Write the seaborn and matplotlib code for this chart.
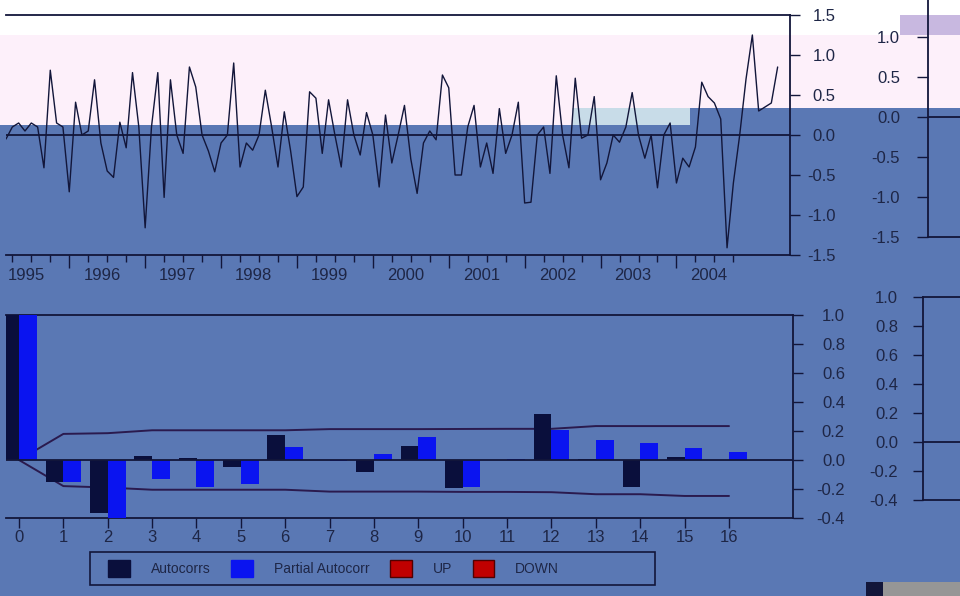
import numpy as np
import pandas as pd
import matplotlib
matplotlib.use("Agg")
import matplotlib.pyplot as plt
import seaborn as sns
from matplotlib.patches import Rectangle, Patch
from matplotlib.ticker import FixedLocator, FormatStrFormatter

# ---------------- data ----------------
series_start = "1995-03-01"
series_values = [
    -0.05, 0.10, 0.15, 0.05, 0.15, 0.10, -0.41, 0.81, 0.15, 0.10,
    -0.71, 0.41, 0.00, 0.05, 0.69, -0.10, -0.45, -0.53, 0.16, -0.16,
    0.78, 0.10, -1.16, 0.10, 0.78, -0.78, 0.69, 0.00, -0.23, 0.85,
    0.60, 0.00, -0.20, -0.46, -0.10, 0.00, 0.90, -0.40, -0.10, -0.19,
    0.00, 0.56, 0.10, -0.40, 0.29, -0.20, -0.77, -0.65, 0.54, 0.46,
    -0.23, 0.44, 0.00, -0.40, 0.44, 0.00, -0.25, 0.28, 0.00, -0.65,
    0.25, -0.35, 0.00, 0.37, -0.30, -0.73, -0.10, 0.05, -0.06, 0.75,
    0.59, -0.50, -0.50, 0.10, 0.37, -0.40, -0.10, -0.48, 0.33, -0.23,
    0.00, 0.41, -0.85, -0.84, 0.00, 0.10, -0.48, 0.74, 0.00, -0.41,
    0.71, -0.04, 0.00, 0.48, -0.56, -0.35, 0.00, -0.09, 0.10, 0.53,
    0.00, -0.29, 0.00, -0.66, 0.00, 0.15, -0.60, -0.29, -0.40, -0.15,
    0.66, 0.48, 0.40, 0.20, -1.41, -0.60, 0.00, 0.70, 1.25, 0.30,
    0.35, 0.40, 0.85,
]
year_labels = [1995, 1996, 1997, 1998, 1999, 2000, 2001, 2002, 2003, 2004]
year_ticks = [1996, 1997, 1998, 1999, 2000, 2001, 2002, 2003, 2004]
top_yticks = [-1.5, -1.0, -0.5, 0.0, 0.5, 1.0, 1.5]

lags = list(range(17))
acf_values = [1.0, -0.15, -0.366, 0.03, 0.015, -0.05, 0.17, 0.0, -0.08, 0.10,
              -0.19, 0.0, 0.32, 0.008, -0.185, 0.02, 0.0]
pacf_values = [1.0, -0.15, -0.40, -0.13, -0.185, -0.165, 0.09, -0.005, 0.04, 0.16,
               -0.185, 0.008, 0.21, 0.14, 0.12, 0.08, 0.055]
band_up = [0.0, 0.18, 0.185, 0.205, 0.205, 0.205, 0.205, 0.213, 0.213, 0.213,
           0.214, 0.215, 0.215, 0.234, 0.234, 0.234, 0.234]
band_down = [0.0, -0.18, -0.19, -0.205, -0.205, -0.205, -0.205, -0.218, -0.218, -0.218,
             -0.22, -0.22, -0.222, -0.236, -0.236, -0.248, -0.248]
bot_yticks = [-0.4, -0.2, 0.0, 0.2, 0.4, 0.6, 0.8, 1.0]
legend_labels = ["Autocorrs", "Partial Autocorr", "UP", "DOWN"]

# ---------------- style ----------------
sns.set_style("white")
plt.rcParams["font.family"] = ["Liberation Sans", "DejaVu Sans"]

BG = "#5a78b4"
NAVY = "#12163a"
TXT = "#1e2646"
DARK = "#0a0f3c"
BLUE = "#0a14f0"
RED = "#c00000"
RED_E = "#500000"
BAND = "#2a1a4e"

W, H = 960, 596


def frac(l, t, r, b):
    return [l / W, 1 - b / H, (r - l) / W, (b - t) / H]


fig = plt.figure(figsize=(9.6, 5.96), dpi=100, facecolor=BG)


def bg_rect(l, t, r, b, color):
    fig.add_artist(Rectangle((l / W, 1 - b / H), (r - l) / W, (b - t) / H,
                             transform=fig.transFigure, facecolor=color,
                             edgecolor="none", zorder=-10))


bg_rect(0, 0, 960, 35, "white")
bg_rect(0, 35, 960, 108, "#fdf0fa")
bg_rect(0, 108, 572, 125, "#fdf0fa")
bg_rect(572, 108, 690, 125, "#c8dce8")
bg_rect(900, 15, 960, 35, "#c8b8e0")
bg_rect(866, 582, 883, 596, NAVY)
bg_rect(883, 582, 960, 596, "#969696")


def style_right_labels(ax):
    for tk in ax.yaxis.get_major_ticks():
        tk.label2.set_horizontalalignment("right")


# ---------------- top: time series ----------------
dates = pd.date_range(series_start, periods=len(series_values), freq="MS")
df_ts = pd.DataFrame({"t": dates.year + (dates.month - 1) / 12, "v": series_values})

ax_top = fig.add_axes(frac(6, 15, 790, 255))
ax_top.set_facecolor("none")
sns.lineplot(data=df_ts, x="t", y="v", ax=ax_top, color=NAVY, lw=1.0,
             estimator=None, sort=False)
ax_top.axhline(0, color=NAVY, lw=1.3)
t0 = df_ts["t"].iloc[0]
ax_top.set_xlim(t0, t0 + 784 / 75.9)
ax_top.set_ylim(-1.5, 1.5)
ax_top.set_xlabel("")
ax_top.set_ylabel("")
ax_top.xaxis.set_major_locator(FixedLocator(year_ticks))
ax_top.xaxis.set_minor_locator(FixedLocator(
    [y + q / 4 for y in year_labels for q in (1, 2, 3)]))
ax_top.tick_params(axis="x", which="major", bottom=True, length=9.5, width=1.0,
                   color=NAVY, labelbottom=False, direction="out")
ax_top.tick_params(axis="x", which="minor", bottom=True, length=5, width=1.0,
                   color=NAVY, direction="out")
ax_top.yaxis.tick_right()
ax_top.set_yticks(top_yticks)
ax_top.yaxis.set_major_formatter(FormatStrFormatter("%.1f"))
ax_top.tick_params(axis="y", right=True, left=False, length=7.2, width=1.0,
                   color=NAVY, pad=25.5, labelsize=12, labelcolor=TXT,
                   direction="out")
style_right_labels(ax_top)
ax_top.spines["left"].set_visible(False)
for s in ("top", "right", "bottom"):
    ax_top.spines[s].set_color(NAVY)
    ax_top.spines[s].set_linewidth(1.3)
for y in year_labels:
    ax_top.text(y + 0.43, -0.054, str(y), transform=ax_top.get_xaxis_transform(),
                ha="center", va="top", fontsize=12, color=TXT)

# ---------------- bottom: correlogram ----------------
df_acf = pd.DataFrame({
    "lag": lags + lags,
    "value": acf_values + pacf_values,
    "kind": [legend_labels[0]] * len(lags) + [legend_labels[1]] * len(lags),
})

ax_bot = fig.add_axes(frac(6, 315, 793, 518))
ax_bot.set_facecolor("none")
ax_bot.plot(lags, band_up, color=BAND, lw=1.4, zorder=2)
ax_bot.plot(lags, band_down, color=BAND, lw=1.4, zorder=2)
sns.barplot(data=df_acf, x="lag", y="value", hue="kind",
            hue_order=legend_labels[:2], palette=[DARK, BLUE], width=0.8,
            saturation=1, errorbar=None, ax=ax_bot, legend=False, zorder=3,
            linewidth=0)
ax_bot.axhline(0, color=NAVY, lw=1.3, zorder=4)
ax_bot.set_xlim(-13 / 44.375, 16 + 64 / 44.375)
ax_bot.set_ylim(-0.4, 1.0)
ax_bot.set_xlabel("")
ax_bot.set_ylabel("")
ax_bot.set_xticks(lags)
ax_bot.set_xticklabels([str(l) for l in lags])
ax_bot.tick_params(axis="x", bottom=True, length=7.2, width=1.0, color=NAVY,
                   pad=1.5, labelsize=12, labelcolor=TXT, direction="out")
ax_bot.yaxis.tick_right()
ax_bot.set_yticks(bot_yticks)
ax_bot.yaxis.set_major_formatter(FormatStrFormatter("%.1f"))
ax_bot.tick_params(axis="y", right=True, left=False, length=7.2, width=1.0,
                   color=NAVY, pad=30.2, labelsize=12, labelcolor=TXT,
                   direction="out")
style_right_labels(ax_bot)
ax_bot.spines["left"].set_visible(False)
for s in ("top", "right", "bottom"):
    ax_bot.spines[s].set_color(NAVY)
    ax_bot.spines[s].set_linewidth(1.3)

# legend
handles = [Patch(facecolor=DARK, edgecolor=DARK),
           Patch(facecolor=BLUE, edgecolor=BLUE),
           Patch(facecolor=RED, edgecolor=RED_E),
           Patch(facecolor=RED, edgecolor=RED_E)]
fig.legend(handles, legend_labels, loc="center left",
           bbox_to_anchor=(108 / W, 1 - 568.5 / H), ncol=4, frameon=False,
           fontsize=10, handlelength=1.56, handleheight=1.6, handletextpad=1.5,
           columnspacing=1.5, borderpad=0, borderaxespad=0, labelcolor=TXT)
fig.add_artist(Rectangle((90 / W, 1 - 585 / H), 565 / W, 33 / H,
                         transform=fig.transFigure, fill=False,
                         edgecolor=NAVY, lw=1.2))

# ---------------- ghost axes at the right edge ----------------
gt = fig.add_axes(frac(928, -3, 1010, 237))
gt.set_facecolor("none")
gt.set_xlim(0, 1)
gt.set_ylim(-1.5, 1.5)
gt.set_xticks([])
gt.set_yticks(top_yticks[:-1])
gt.yaxis.set_major_formatter(FormatStrFormatter("%.1f"))
gt.axhline(0, color=NAVY, lw=1.3)
gt.tick_params(axis="y", left=True, length=7.9, width=1.0, color=NAVY, pad=12.2,
               labelsize=12, labelcolor=TXT, direction="out")
for s in ("top", "right"):
    gt.spines[s].set_visible(False)
for s in ("left", "bottom"):
    gt.spines[s].set_color(NAVY)
    gt.spines[s].set_linewidth(1.3)

gb = fig.add_axes(frac(923, 297, 1010, 500))
gb.set_facecolor("none")
gb.set_xlim(0, 1)
gb.set_ylim(-0.4, 1.0)
gb.set_xticks([])
gb.set_yticks(bot_yticks)
gb.yaxis.set_major_formatter(FormatStrFormatter("%.1f"))
gb.axhline(0, color=NAVY, lw=1.3)
gb.tick_params(axis="y", left=True, length=7.2, width=1.0, color=NAVY, pad=10.8,
               labelsize=12, labelcolor=TXT, direction="out")
gb.spines["right"].set_visible(False)
for s in ("left", "top", "bottom"):
    gb.spines[s].set_color(NAVY)
    gb.spines[s].set_linewidth(1.3)

fig.savefig("out.png", dpi=100, facecolor=BG)
